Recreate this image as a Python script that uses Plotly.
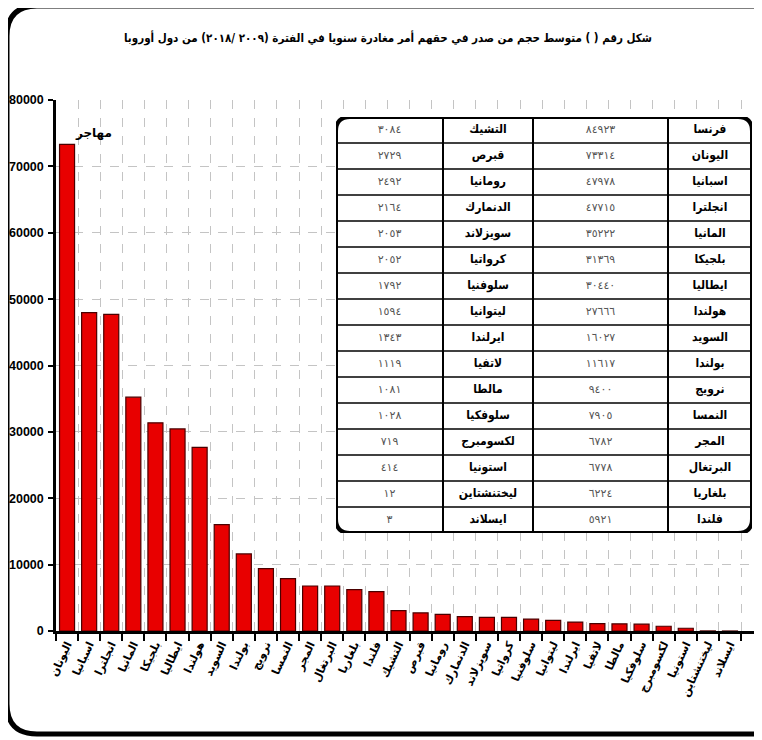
import plotly.graph_objects as go

# ---------------- data ----------------
title_text = "شكل رقم ( ) متوسط حجم من صدر في حقهم أمر مغادرة سنويا في الفترة (٢٠٠٩ /٢٠١٨) من دول أوروبا"
unit_label = "مهاجر"

countries = [
    "فرنسا", "اليونان", "اسبانيا", "انجلترا", "المانيا", "بلجيكا", "ايطاليا", "هولندا",
    "السويد", "بولندا", "نرويج", "النمسا", "المجر", "البرتغال", "بلغاريا", "فلندا",
    "التشيك", "قبرص", "رومانيا", "الدنمارك", "سويزلاند", "كرواتيا", "سلوفنيا", "ليتوانيا",
    "ايرلندا", "لاتفيا", "مالطا", "سلوفكيا", "لكسومبرج", "استونيا", "ليختنشتاين", "ايسلاند",
]
values = [
    84923, 73314, 47978, 47715, 35222, 31369, 30440, 27666,
    16027, 11617, 9400, 7905, 6782, 6778, 6224, 5921,
    3084, 2729, 2492, 2164, 2053, 2052, 1792, 1594,
    1343, 1119, 1081, 1028, 719, 414, 12, 3,
]
# bars: every country except France (off the 80000 scale)
bar_countries = countries[1:]
bar_values = values[1:]

y_tick_vals = [0, 10000, 20000, 30000, 40000, 50000, 60000, 70000, 80000]
y_tick_text = ["0", "10000", "20000", "30000", "40000", "50000", "60000", "70000", "80000"]

# ---------------- layout geometry ----------------
# the page body has an 8px margin, so the figure is placed at (8, 8);
# geometry below is given in window pixels and shifted by OFF.
OFF = 8
W, H = 762 - OFF, 740 - OFF
L, R, T, B = 56, 762, 100, 631   # plot area in window pixels


def px(x):
    return (x - L) / (R - L)


def py(y):
    return (B - y) / (B - T)


AR = str.maketrans("0123456789", "٠١٢٣٤٥٦٧٨٩")


def ar_num(v):
    return str(v).translate(AR)


fig = go.Figure()

fig.add_trace(go.Bar(
    x=bar_countries, y=bar_values,
    marker=dict(color="#e80000", line=dict(color="#4a0000", width=1.2)),
    width=0.68, hoverinfo="x+y", showlegend=False,
))

# ---------------- table (overlay axes in pixel units) ----------------
tx0, tx1, ty0, ty1 = 336, 752, 117, 533
col_edges = [336, 443, 533, 668, 752]
n_rows = 16
row_h = (ty1 - ty0) / n_rows

names_r = countries[:16]
vals_r = values[:16]
names_l = countries[16:]
vals_l = values[16:]

cx = [(col_edges[i] + col_edges[i + 1]) / 2 for i in range(4)]
row_c = [ty0 + row_h * (i + 0.5) for i in range(n_rows)]

fig.add_trace(go.Scatter(
    x=[cx[3]] * n_rows + [cx[1]] * n_rows,
    y=row_c + row_c,
    text=names_r + names_l,
    mode="text",
    textfont=dict(family="DejaVu Sans Condensed, DejaVu Sans", size=12, color="#000000", weight="bold"),
    xaxis="x2", yaxis="y2", showlegend=False, hoverinfo="skip",
))
fig.add_trace(go.Scatter(
    x=[cx[2]] * n_rows + [cx[0]] * n_rows,
    y=row_c + row_c,
    text=[ar_num(v) for v in vals_r] + [ar_num(v) for v in vals_l],
    mode="text",
    textfont=dict(family="DejaVu Sans", size=11, color="#555555"),
    xaxis="x2", yaxis="y2", showlegend=False, hoverinfo="skip",
))


def rrect(x0, y0, x1, y1, r):
    return (f"M {x0 + r},{y0} L {x1 - r},{y0} Q {x1},{y0} {x1},{y0 + r} "
            f"L {x1},{y1 - r} Q {x1},{y1} {x1 - r},{y1} L {x0 + r},{y1} "
            f"Q {x0},{y1} {x0},{y1 - r} L {x0},{y0 + r} Q {x0},{y0} {x0 + r},{y0} Z")


shapes = []
shapes.append(dict(type="path", path=rrect(tx0, ty0, tx1, ty1, 14), xref="x2", yref="y2",
                   fillcolor="white", line=dict(width=0), layer="below"))
for xe in col_edges[1:-1]:
    shapes.append(dict(type="line", x0=xe, x1=xe, y0=ty0, y1=ty1, xref="x2", yref="y2",
                       line=dict(color="black", width=2), layer="above"))
for i in range(1, n_rows):
    yy = ty0 + row_h * i
    shapes.append(dict(type="line", x0=tx0, x1=tx1, y0=yy, y1=yy, xref="x2", yref="y2",
                       line=dict(color="black", width=1.5), layer="above"))
shapes.append(dict(type="path", path=rrect(tx0, ty0, tx1, ty1, 14), xref="x2", yref="y2",
                   line=dict(color="black", width=4), layer="above"))

# outer rounded frame of the whole chart (right side runs off the picture)
fl, ft, fb, fr, rad = 7, 6, 734, 790, 30
frame = (f"M {px(fr)},{py(ft)} L {px(fl + rad)},{py(ft)} Q {px(fl)},{py(ft)} {px(fl)},{py(ft + rad)} "
         f"L {px(fl)},{py(fb - rad)} Q {px(fl)},{py(fb)} {px(fl + rad)},{py(fb)} L {px(fr)},{py(fb)}")
shapes.append(dict(type="path", path=frame, xref="paper", yref="paper",
                   line=dict(color="black", width=5), layer="above"))

fig.update_layout(
    width=W, height=H,
    template="none",
    paper_bgcolor="white", plot_bgcolor="white",
    margin=dict(l=L - OFF, r=(762 - OFF) - (R - OFF), t=T - OFF, b=(740 - OFF) - (B - OFF), autoexpand=False),
    showlegend=False,
    bargap=0.32,
    font=dict(family="DejaVu Sans", color="black"),
    title=dict(text=title_text, x=(388 - OFF) / W, xanchor="center", y=1 - (38 - OFF) / H, yanchor="middle",
               font=dict(family="DejaVu Sans Condensed, DejaVu Sans", size=11.5, color="black", weight="bold")),
    xaxis=dict(
        type="category", range=[-0.5, 31.45], automargin=False,
        tickson="boundaries", ticks="outside", ticklen=7, tickwidth=2, tickcolor="black",
        showline=True, linecolor="black", linewidth=2.5,
        showgrid=True, gridcolor="#c4c4c4", griddash="dash", gridwidth=1,
        tickangle=-65, tickfont=dict(family="DejaVu Sans", size=11, color="black", weight="bold"),
        zeroline=False, fixedrange=True,
    ),
    yaxis=dict(
        range=[0, 80000], automargin=False,
        tickvals=y_tick_vals, ticktext=y_tick_text,
        ticks="outside", ticklen=5, tickwidth=2, tickcolor="black",
        showline=True, linecolor="black", linewidth=2.5,
        showgrid=True, gridcolor="#c4c4c4", griddash="dash", gridwidth=1,
        ticklabelstandoff=2,
        tickfont=dict(family="Liberation Sans", size=12.5, color="black", weight="bold"),
        zeroline=False, fixedrange=True,
    ),
    xaxis2=dict(domain=[px(tx0), px(tx1)], range=[tx0, tx1], anchor="y2",
                visible=False, fixedrange=True),
    yaxis2=dict(domain=[py(ty1), py(ty0)], range=[ty1, ty0], anchor="x2",
                visible=False, fixedrange=True),
    shapes=shapes,
    annotations=[dict(text=unit_label, x=px(73), y=py(124), xref="paper", yref="paper",
                      showarrow=False, font=dict(family="DejaVu Sans", size=12, color="black", weight="bold"))],
)

fig.write_html("out.html")
